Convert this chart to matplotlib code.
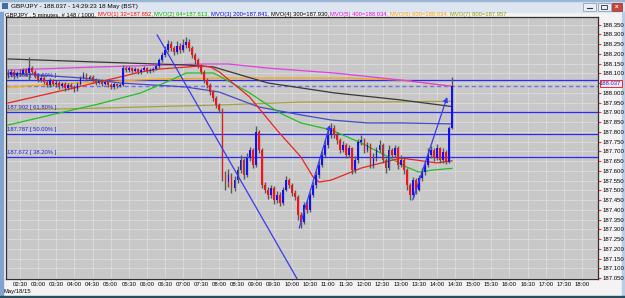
import matplotlib
matplotlib.use('Agg')
import matplotlib.pyplot as plt
from matplotlib.patches import Rectangle
from matplotlib import font_manager

names = {f.name for f in font_manager.fontManager.ttflist}
FONT = 'Liberation Sans Narrow' if 'Liberation Sans Narrow' in names else 'Liberation Sans'
plt.rcParams['font.family'] = [FONT, 'DejaVu Sans']

# ---------------- data ----------------
bar_start = "02:10"
bar_minutes = 5
first_open = 188.097
closes = [188.092, 188.107, 188.086, 188.102, 188.097, 188.117, 188.102, 188.127, 188.107, 188.086,
          188.066, 188.076, 188.056, 188.040, 188.066, 188.045, 188.051, 188.035, 188.045, 188.025,
          188.040, 188.030, 188.020, 188.045, 188.076, 188.092, 188.071, 188.081, 188.066, 188.051,
          188.061, 188.045, 188.056, 188.040, 188.030, 188.045, 188.035, 188.040, 188.127, 188.117,
          188.127, 188.112, 188.122, 188.107, 188.117, 188.127, 188.112, 188.117, 188.122, 188.138,
          188.168, 188.194, 188.220, 188.250, 188.230, 188.209, 188.240, 188.220, 188.245, 188.261,
          188.230, 188.194, 188.168, 188.143, 188.107, 188.066, 188.040, 188.004, 187.974, 187.938,
          187.912, 187.569, 187.543, 187.579, 187.512, 187.553, 187.605, 187.656, 187.579, 187.666,
          187.707, 187.630, 187.799, 187.707, 187.528, 187.502, 187.476, 187.512, 187.451, 187.476,
          187.435, 187.502, 187.553, 187.528, 187.487, 187.466, 187.374, 187.338, 187.425, 187.399,
          187.476, 187.528, 187.579, 187.630, 187.681, 187.733, 187.784, 187.820, 187.784, 187.758,
          187.707, 187.733, 187.681, 187.717, 187.605, 187.656, 187.748, 187.758, 187.707, 187.733,
          187.630, 187.666, 187.707, 187.733, 187.656, 187.615, 187.707, 187.681, 187.717, 187.630,
          187.656, 187.605, 187.528, 187.476, 187.553, 187.502, 187.564, 187.594, 187.630, 187.681,
          187.707, 187.666, 187.717, 187.656, 187.697, 187.646, 187.820, 188.037]
highs = [188.115, 188.120, 188.118, 188.112, 188.125, 188.130, 188.128, 188.184, 188.140, 188.115,
         188.095, 188.090, 188.085, 188.068, 188.075, 188.072, 188.065, 188.060, 188.058, 188.055,
         188.050, 188.052, 188.040, 188.055, 188.088, 188.105, 188.100, 188.092, 188.090, 188.075,
         188.072, 188.070, 188.068, 188.064, 188.050, 188.055, 188.052, 188.050, 188.143, 188.138,
         188.140, 188.135, 188.135, 188.130, 188.128, 188.140, 188.135, 188.130, 188.135, 188.150,
         188.180, 188.210, 188.240, 188.270, 188.265, 188.240, 188.268, 188.255, 188.275, 188.286,
         188.275, 188.240, 188.205, 188.180, 188.150, 188.115, 188.075, 188.050, 188.015, 187.985,
         187.950, 187.920, 187.600, 187.610, 187.590, 187.575, 187.625, 187.680, 187.665, 187.690,
         187.725, 187.715, 187.830, 187.810, 187.720, 187.545, 187.520, 187.530, 187.525, 187.495,
         187.490, 187.520, 187.575, 187.565, 187.540, 187.500, 187.475, 187.390, 187.440, 187.445,
         187.490, 187.545, 187.600, 187.650, 187.700, 187.760, 187.810, 187.845, 187.835, 187.800,
         187.770, 187.755, 187.745, 187.735, 187.725, 187.675, 187.765, 187.785, 187.770, 187.750,
         187.745, 187.690, 187.725, 187.760, 187.745, 187.665, 187.735, 187.720, 187.735, 187.730,
         187.680, 187.670, 187.615, 187.540, 187.570, 187.565, 187.580, 187.615, 187.650, 187.720,
         187.730, 187.715, 187.740, 187.725, 187.715, 187.705, 187.830, 188.081]
lows = [188.075, 188.080, 188.070, 188.078, 188.085, 188.090, 188.088, 188.066, 188.095, 188.075,
        188.055, 188.058, 188.045, 188.030, 188.032, 188.035, 188.030, 188.022, 188.025, 188.012,
        188.015, 188.018, 188.004, 188.008, 188.040, 188.070, 188.062, 188.065, 188.058, 188.042,
        188.045, 188.035, 188.038, 188.030, 188.020, 188.022, 188.025, 188.028, 188.035, 188.105,
        188.108, 188.100, 188.105, 188.095, 188.098, 188.110, 188.100, 188.102, 188.108, 188.115,
        188.130, 188.160, 188.185, 188.210, 188.215, 188.195, 188.200, 188.205, 188.210, 188.230,
        188.215, 188.180, 188.150, 188.130, 188.095, 188.050, 188.025, 187.990, 187.960, 187.920,
        187.895, 187.550, 187.500, 187.520, 187.486, 187.495, 187.540, 187.590, 187.560, 187.570,
        187.650, 187.615, 187.620, 187.690, 187.510, 187.485, 187.455, 187.460, 187.430, 187.435,
        187.420, 187.425, 187.495, 187.510, 187.470, 187.450, 187.350, 187.307, 187.330, 187.385,
        187.390, 187.465, 187.515, 187.565, 187.620, 187.670, 187.720, 187.770, 187.770, 187.740,
        187.690, 187.695, 187.665, 187.670, 187.585, 187.590, 187.640, 187.735, 187.690, 187.695,
        187.615, 187.615, 187.650, 187.695, 187.640, 187.590, 187.605, 187.665, 187.670, 187.610,
        187.620, 187.585, 187.500, 187.451, 187.460, 187.480, 187.495, 187.550, 187.580, 187.620,
        187.665, 187.650, 187.655, 187.640, 187.640, 187.635, 187.640, 187.815]

ma32_t = ["02:10", "04:05", "05:50", "06:20", "07:30", "07:45", "08:00", "08:50", "09:35", "10:15",
          "10:35", "10:45", "11:05", "11:55", "13:00", "13:25", "14:00", "14:25"]
ma32_v = [187.948, 188.030, 188.107, 188.122, 188.138, 188.133, 188.107, 187.979, 187.810, 187.671,
          187.569, 187.543, 187.553, 187.615, 187.666, 187.656, 187.641, 187.652]
ma64_t = ["02:10", "03:35", "04:40", "05:50", "06:40", "07:05", "07:50", "08:00", "08:50", "09:40",
          "10:15", "11:05", "11:55", "12:40", "13:10", "13:30", "13:55", "14:25"]
ma64_v = [187.835, 187.897, 187.943, 188.000, 188.066, 188.102, 188.102, 188.086, 188.000, 187.897,
          187.846, 187.810, 187.743, 187.671, 187.620, 187.594, 187.605, 187.613]
ma200_t = ["02:10", "04:15", "05:15", "07:05", "08:00", "09:05", "10:15", "11:05", "12:05", "13:00", "14:25"]
ma200_v = [188.102, 188.076, 188.051, 188.030, 188.004, 187.928, 187.887, 187.861, 187.846, 187.846, 187.841]
ma300_t = ["02:10", "04:40", "07:05", "07:50", "09:20", "11:10", "13:00", "14:25"]
ma300_v = [188.174, 188.158, 188.143, 188.133, 188.051, 188.000, 187.964, 187.930]
ma400_t = ["02:10", "04:40", "07:30", "08:15", "09:20", "11:10", "13:00", "14:25"]
ma400_v = [188.117, 188.133, 188.148, 188.148, 188.127, 188.102, 188.066, 188.034]
ma600_t = ["02:10", "04:40", "06:20", "08:00", "11:35", "13:00", "14:25"]
ma600_v = [188.030, 188.056, 188.071, 188.076, 188.076, 188.066, 188.034]
ma800_t = ["02:10", "04:40", "08:00", "10:15", "12:25", "14:25"]
ma800_v = [187.912, 187.922, 187.938, 187.953, 187.953, 187.957]

fib_levels = [188.066, 187.902, 187.787, 187.672]
fib_labels = ["188.066 [ 78.60% ]", "187.902 [ 61.80% ]", "187.787 [ 50.00% ]", "187.672 [ 38.20% ]"]
current_price = 188.037

trend_t = ["06:17", "10:10"]
trend_v = [188.297, 187.039]
arrow1_t = ["10:12", "11:03"]
arrow1_v = [187.307, 187.836]
arrow2_t = ["13:20", "14:17"]
arrow2_v = [187.451, 187.979]

xtick_labels = ["02:30", "03:00", "03:30", "04:00", "04:30", "05:00", "05:30", "06:00", "06:30", "07:00",
                "07:30", "08:00", "08:30", "09:00", "09:30", "10:00", "10:30", "11:00", "11:30", "12:00",
                "12:30", "13:00", "13:30", "14:00", "14:30", "15:00", "15:30", "16:00", "16:30", "17:00",
                "17:30", "18:00"]
# 188.050 is hidden behind the current-price box in the reference
ytick_values = [187.050, 187.100, 187.150, 187.200, 187.250, 187.300, 187.350, 187.400,
                187.450, 187.500, 187.550, 187.600, 187.650, 187.700, 187.750, 187.800,
                187.850, 187.900, 187.950, 188.000, 188.050, 188.100, 188.150, 188.200,
                188.250, 188.300, 188.350]
ytick_labels = ["187.050", "187.100", "187.150", "187.200", "187.250", "187.300", "187.350", "187.400",
                "187.450", "187.500", "187.550", "187.600", "187.650", "187.700", "187.750", "187.800",
                "187.850", "187.900", "187.950", "188.000", "", "188.100", "188.150", "188.200",
                "188.250", "188.300", "188.350"]

header_parts = [("GBPJPY , 5 minutes, # 148 / 1000, ", "black"),
                ("MVO(1) 32=187.652, ", "#FF0000"),
                ("MVO(2) 64=187.613, ", "#00B000"),
                ("MVO(3) 200=187.841, ", "#0000E0"),
                ("MVO(4) 300=187.930, ", "black"),
                ("MVO(5) 400=188.034, ", "#E000E0"),
                ("MVO(6) 600=188.034, ", "#FF9900"),
                ("MVO(7) 800=187.957", "#999900")]
title_text = "GBP/JPY - 188.037 - 14:29:23 18 May (BST)"
date_text = "May/18/15"


def tmin(s):
    h, m = s.split(':')
    return int(h) * 60 + int(m)


W, H = 625, 298
fig = plt.figure(figsize=(W / 100, H / 100), dpi=100)

# background / window chrome
bg = fig.add_axes([0, 0, 1, 1], zorder=0)
bg.set_xlim(0, W); bg.set_ylim(H, 0); bg.axis('off')
bg.add_patch(Rectangle((0, 0), W, H, color='#F3F3F3'))
bg.add_patch(Rectangle((0, 0), W, 11.5, color='#DCE5F0'))
bg.add_patch(Rectangle((0, 0), W, 1, color='#9DB6D6'))
bg.add_patch(Rectangle((0, 11.5), 3, H, color='#7FA4D0'))
bg.add_patch(Rectangle((621.5, 11.5), 4, H, color='#B9CDE6'))
bg.add_patch(Rectangle((0, 295.5), W, 3, color='#23505F'))

# main chart
x0, x1 = 6, 598
y0, y1 = 17, 279
ax = fig.add_axes([x0 / W, (H - y1) / H, (x1 - x0) / W, (y1 - y0) / H], zorder=1)
ax.set_facecolor('#C8C8C8')
ax.set_xlim(126.8, 1106.6)
ax.set_ylim(187.046, 188.389)

ax.set_xticks([tmin(s) for s in xtick_labels])
ax.set_xticklabels(xtick_labels)
ax.set_yticks(ytick_values)
ax.set_yticklabels(ytick_labels)
ax.yaxis.tick_right()
ax.tick_params(axis='x', colors='#FF3030', labelcolor='black', length=2, width=0.8,
               direction='inout', pad=1.5, labelsize=4.3)
ax.tick_params(axis='y', colors='#FF3030', labelcolor='black', length=2.5, width=0.8,
               direction='out', pad=1, labelsize=4.3)
ax.grid(True, color='#DCDCDC', lw=0.6)
ax.set_axisbelow(True)
for sp in ax.spines.values():
    sp.set_color('#303030'); sp.set_linewidth(0.9)

# fib / horizontal lines
for lv, lb in zip(fib_levels, fib_labels):
    ax.axhline(lv, color='#2828FF', lw=0.9, zorder=2)
    ax.text(128.5, lv + 0.012, lb, color='#2020E0', fontsize=4.2, va='bottom', ha='left', zorder=6)
ax.axhline(current_price, color='#7070E8', lw=1.0, ls=(0, (3, 2)), zorder=2)

# moving averages
ma_sets = [(ma800_t, ma800_v, '#A8A040'), (ma600_t, ma600_v, '#FFA500'),
           (ma400_t, ma400_v, '#E040E0'), (ma300_t, ma300_v, '#383838'),
           (ma200_t, ma200_v, '#4848C8'), (ma64_t, ma64_v, '#20C020'),
           (ma32_t, ma32_v, '#F02020')]
for tt, vv, cc in ma_sets:
    ax.plot([tmin(s) for s in tt], vv, color=cc, lw=0.9, zorder=3)

# candles
t_start = tmin(bar_start)
opens = [first_open] + closes[:-1]
for i, (o, h, l, c) in enumerate(zip(opens, highs, lows, closes)):
    t = t_start + bar_minutes * i
    ax.vlines(t, l, h, color='#5A5A5A', lw=1.0, zorder=4)
    col = '#1010FF' if c >= o else '#FF1010'
    hgt = c - o
    if abs(hgt) < 0.003:
        hgt = 0.003
    ax.bar(t, hgt, bottom=o, width=3.0, color=col, zorder=5, linewidth=0)

# trendline and arrows
ax.plot([tmin(s) for s in trend_t], trend_v, color='#3A3AF0', lw=0.9, zorder=6)
for at, av in ((arrow1_t, arrow1_v), (arrow2_t, arrow2_v)):
    ax.annotate('', xy=(tmin(at[1]), av[1]), xytext=(tmin(at[0]), av[0]),
                arrowprops=dict(arrowstyle='-|>', color='#3A3AF0', lw=0.9,
                                mutation_scale=7, shrinkA=0, shrinkB=0), zorder=7)

# overlay texts
ov = fig.add_axes([0, 0, 1, 1], zorder=5)
ov.set_xlim(0, W); ov.set_ylim(H, 0); ov.axis('off'); ov.patch.set_alpha(0)

ov.text(11, 6.2, title_text, fontsize=4.6, va='center', ha='left', color='black')
ov.add_patch(Rectangle((1.5, 3), 6, 6, facecolor='#3A6EA5', edgecolor='none'))
# window buttons
ov.add_patch(Rectangle((583, 2.5), 13, 8, facecolor='#E8EEF6', edgecolor='#7F93AD', lw=0.5))
ov.plot([587, 592], [8.3, 8.3], color='#333333', lw=0.8)
ov.add_patch(Rectangle((597.5, 2.5), 13, 8, facecolor='#E8EEF6', edgecolor='#7F93AD', lw=0.5))
ov.add_patch(Rectangle((601, 4.5), 6, 4.5, facecolor='none', edgecolor='#333333', lw=0.6))
ov.add_patch(Rectangle((611.5, 2.5), 10, 8, facecolor='#C9463D', edgecolor='#8A2F2A', lw=0.5))
ov.text(616.5, 6.6, 'x', fontsize=4.5, color='white', ha='center', va='center', fontweight='bold')

renderer = fig.canvas.get_renderer()
xpos = 5
for txt, col in header_parts:
    t = ov.text(xpos, 14.3, txt, fontsize=4.2, color=col, va='center', ha='left')
    bb = t.get_window_extent(renderer)
    xpos += bb.width

ov.text(3, 291, date_text, fontsize=4.2, color='black', va='center', ha='left')

# current price box on right scale
ov.add_patch(Rectangle((599.5, 80.2), 22, 6.4, facecolor='#EDEDF5', edgecolor='#FF2020', lw=0.7))
ov.text(610.5, 83.5, f"{current_price:.3f}", fontsize=4.2, color='#2020E0', ha='center', va='center')

fig.savefig('out.png', dpi=100)
